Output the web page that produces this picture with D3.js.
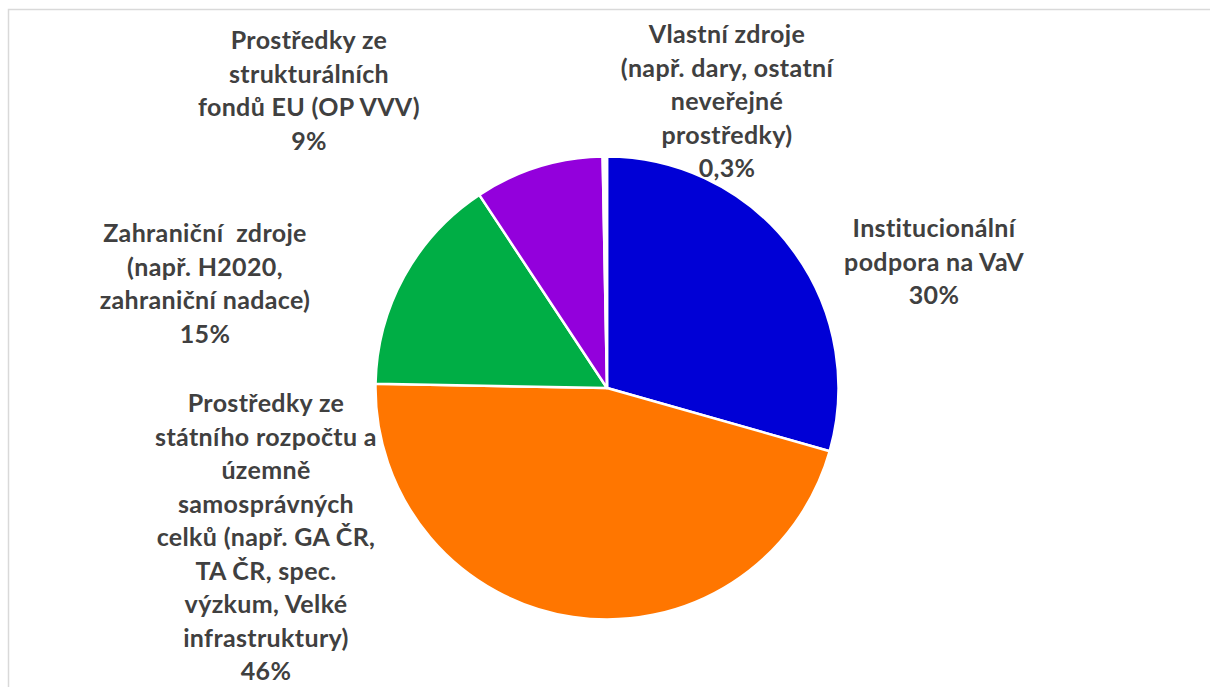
<!DOCTYPE html>
<html>
<head>
<meta charset="utf-8">
<script src="https://cdn.jsdelivr.net/npm/d3@7"></script>
<style>
  body { margin: 0; background: #fff; }
  svg { display: block; }
</style>
</head>
<body>
<svg id="chart"></svg>
<script>
// data
const categories = [
  ['Institucionální', 'podpora na VaV'],
  ['Prostředky ze', 'státního rozpočtu a', 'územně', 'samosprávných', 'celků (např. GA ČR,', 'TA ČR, spec.', 'výzkum, Velké', 'infrastruktury)'],
  ['Zahraniční  zdroje', '(např. H2020,', 'zahraniční nadace)'],
  ['Prostředky ze', 'strukturálních', 'fondů EU (OP VVV)'],
  ['Vlastní zdroje', '(např. dary, ostatní', 'neveřejné', 'prostředky)']
];
const values = [29.4, 45.9, 15.4, 9.0, 0.3];
const percentLabels = ['30%', '46%', '15%', '9%', '0,3%'];
const colors = ['#0000D6', '#FF7600', '#00AE45', '#9300DC', '#FFFFFF'];

// label anchor (centre x, first baseline) per slice
const labelPos = [[934, 237], [266, 412], [205, 242], [309, 49], [727, 43]];

const W = 1210, H = 687;
const svg = d3.select('#chart').attr('width', W).attr('height', H);

// chart area border
svg.append('rect')
  .attr('x', 8.5).attr('y', 9.5)
  .attr('width', W + 10).attr('height', H + 10)
  .attr('fill', 'none')
  .attr('stroke', '#d9d9d9')
  .attr('stroke-width', 1.5);

const cx = 607, cy = 388, r = 231.5;

const pie = d3.pie().sort(null).value(d => d);
const arc = d3.arc().innerRadius(0).outerRadius(r);

const g = svg.append('g').attr('transform', `translate(${cx},${cy})`);

g.selectAll('path')
  .data(pie(values))
  .join('path')
  .attr('d', arc)
  .attr('fill', (d, i) => colors[i])
  .attr('stroke', '#fff')
  .attr('stroke-width', 2.5)
  .attr('stroke-linejoin', 'round');

const lineH = 33.5;
const labels = svg.append('g')
  .attr('font-family', 'Lato, "Open Sans", sans-serif')
  .attr('font-weight', 'bold')
  .attr('font-size', 25)
  .attr('letter-spacing', 0.35)
  .attr('fill', '#404040')
  .attr('text-anchor', 'middle');

categories.forEach((lines, i) => {
  const [x, y] = labelPos[i];
  const t = labels.append('text').attr('x', x).attr('y', y);
  lines.concat([percentLabels[i]]).forEach((ln, j) => {
    t.append('tspan')
      .attr('x', x)
      .attr('y', y + j * lineH)
      .attr('xml:space', 'preserve')
      .text(ln);
  });
});
</script>
</body>
</html>
